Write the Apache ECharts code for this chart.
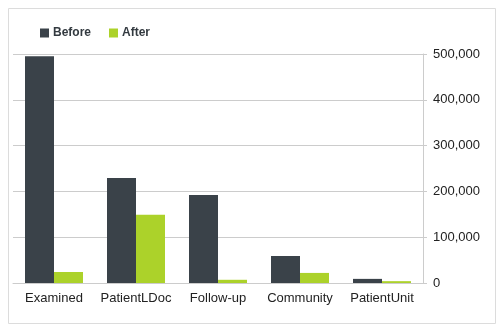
<!DOCTYPE html>
<html>
<head>
<meta charset="utf-8">
<script src="https://cdn.jsdelivr.net/npm/echarts@6/dist/echarts.min.js"></script>
<style>
  html, body { margin: 0; padding: 0; background: #fff; }
  #chart { width: 500px; height: 329px; }
</style>
</head>
<body>
<div id="chart"></div>
<script>
// Categories and the two series of counts
const categories = ['Examined', 'PatientLDoc', 'Follow-up', 'Community', 'PatientUnit'];
const beforeValues = [495000, 229000, 192000, 59000, 9000];
const afterValues = [24000, 149000, 7000, 22000, 4000];
const yTicks = [0, 100000, 200000, 300000, 400000, 500000];

const FONT = '"Liberation Sans", Arial, sans-serif';
const DARK = '#3a4249';
const GREEN = '#acd22a';

const chart = echarts.init(document.getElementById('chart'), null, { renderer: 'canvas' });

chart.setOption({
  animation: false,
  backgroundColor: '#ffffff',
  textStyle: { fontFamily: FONT },
  graphic: [{
    type: 'rect',
    left: 6, top: 6,
    shape: { width: 487, height: 315 },
    style: { fill: 'none', stroke: '#dcdcdc', lineWidth: 1 },
    silent: true,
    z: -1
  }],
  legend: {
    left: 35,
    top: 22,
    itemWidth: 9,
    itemHeight: 9,
    itemGap: 18,
    icon: 'rect',
    textStyle: { fontFamily: FONT, fontSize: 12, fontWeight: 'bold', color: '#333a40', padding: [0, 0, 0, -1] },
    data: ['Before', 'After']
  },
  grid: { left: 13, right: 77, top: 54, bottom: 46, containLabel: false },
  xAxis: {
    type: 'category',
    data: categories,
    axisLine: { show: true, lineStyle: { color: '#cccccc', width: 1 } },
    axisTick: { show: false },
    axisLabel: { interval: 0, fontFamily: FONT, fontSize: 13, color: '#222222', margin: 9 }
  },
  yAxis: {
    type: 'value',
    position: 'right',
    min: yTicks[0],
    max: yTicks[yTicks.length - 1],
    interval: yTicks[1] - yTicks[0],
    axisLine: { show: true, lineStyle: { color: '#cccccc', width: 1 } },
    axisTick: { show: true, length: 4, lineStyle: { color: '#cccccc' } },
    splitLine: { show: true, lineStyle: { color: '#cccccc', width: 1 } },
    axisLabel: {
      fontFamily: FONT, fontSize: 13, color: '#222222', margin: 10,
      formatter: v => v.toLocaleString('en-US')
    }
  },
  series: [
    {
      name: 'Before',
      type: 'bar',
      data: beforeValues,
      barWidth: 29,
      barGap: '0%',
      itemStyle: { color: DARK }
    },
    {
      name: 'After',
      type: 'bar',
      data: afterValues,
      barWidth: 29,
      barGap: '0%',
      itemStyle: { color: GREEN }
    }
  ]
});
</script>
</body>
</html>
